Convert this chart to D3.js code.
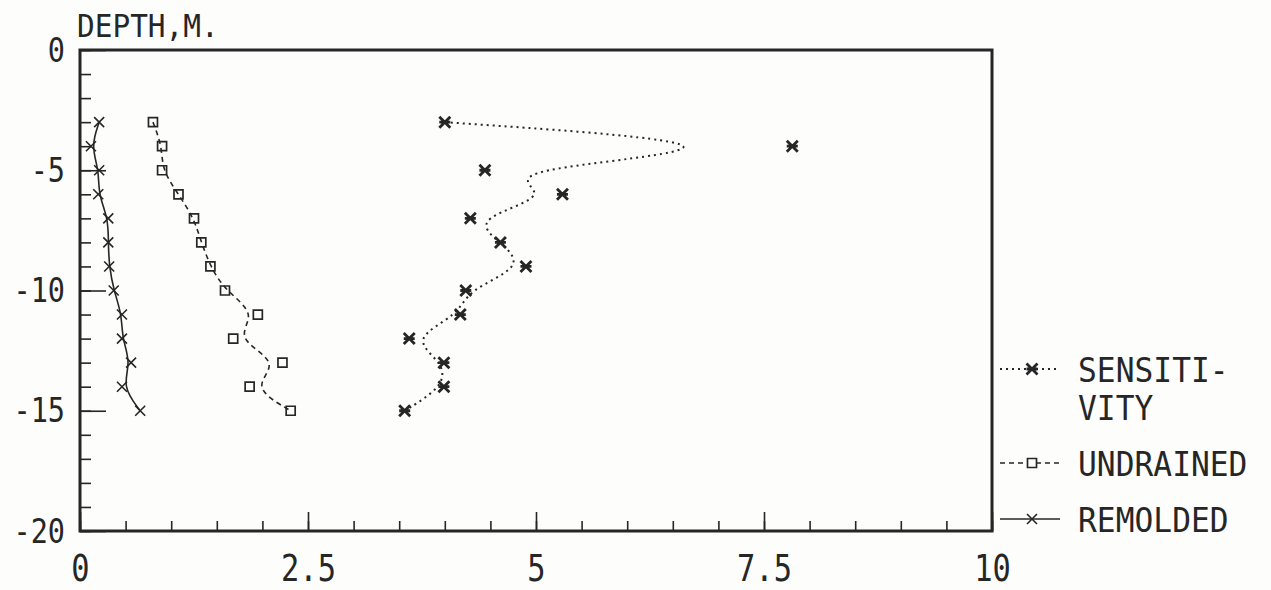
<!DOCTYPE html>
<html>
<head>
<meta charset="utf-8">
<script src="https://cdn.jsdelivr.net/npm/d3@7"></script>
<style>
  body { margin: 0; background: #fdfdfc; }
  svg { display: block; }
  text { font-family: "DejaVu Sans Mono", monospace; fill: #262626; }
</style>
</head>
<body>
<svg width="1271" height="590"></svg>
<script>
// values, depth in metres
const depths = [-3, -4, -5, -6, -7, -8, -9, -10, -11, -12, -13, -14, -15];
const remolded = [0.21, 0.12, 0.21, 0.20, 0.31, 0.31, 0.32, 0.37, 0.46, 0.46, 0.56, 0.46, 0.66];
const undrained = [0.80, 0.90, 0.90, 1.08, 1.25, 1.33, 1.43, 1.59, 1.95, 1.68, 2.22, 1.86, 2.31];
const sensitivity = [4.00, 7.81, 4.44, 5.29, 4.28, 4.61, 4.89, 4.23, 4.17, 3.61, 3.99, 3.99, 3.56];

const xTicks = [0, 2.5, 5, 7.5, 10];
const yTicks = [0, -5, -10, -15, -20];
const seriesNames = ['SENSITI-|VITY', 'UNDRAINED', 'REMOLDED'];

const ink = '#262626';
const svg = d3.select('svg');

const margin = { top: 50, left: 80, right: 279, bottom: 59 };
const width = +svg.attr('width');
const height = +svg.attr('height');
const innerWidth = width - margin.left - margin.right;
const innerHeight = height - margin.top - margin.bottom;

const xScale = d3.scaleLinear().domain([0, 10]).range([0, innerWidth]);
const yScale = d3.scaleLinear().domain([0, -20]).range([0, innerHeight]);

const g = svg.append('g')
  .attr('transform', `translate(${margin.left},${margin.top})`);

// minor ticks
g.append('g')
  .call(d3.axisRight(yScale).tickValues(d3.range(0, -21, -1)).tickSize(11).tickFormat(''))
  .call(a => a.select('.domain').remove());
g.append('g')
  .attr('transform', `translate(0,${innerHeight})`)
  .call(d3.axisTop(xScale).tickValues(d3.range(0, 10.01, 0.5)).tickSize(10).tickFormat(''))
  .call(a => a.select('.domain').remove());

// major ticks with labels (plotter lettering is narrow, so squeeze it)
const ySqueeze = 0.84;
const yAxisG = g.append('g')
  .call(d3.axisLeft(yScale).tickValues(yTicks).tickSizeInner(-26).tickSizeOuter(0)
    .tickPadding(15).tickFormat(d => String(d)));
yAxisG.select('.domain').remove();
yAxisG.selectAll('text')
  .attr('font-size', 34)
  .attr('dy', '0.33em')
  .attr('x', -15 / ySqueeze)
  .attr('transform', `scale(${ySqueeze},1)`);

const xSqueeze = 0.8;
const xAxisG = g.append('g')
  .attr('transform', `translate(0,${innerHeight})`)
  .call(d3.axisBottom(xScale).tickValues(xTicks).tickSizeInner(-19).tickSizeOuter(0)
    .tickPadding(23).tickFormat(d => String(d)));
xAxisG.select('.domain').remove();
xAxisG.selectAll('text')
  .attr('font-size', 38)
  .attr('transform', `scale(${xSqueeze},1)`);

g.selectAll('.tick line').attr('stroke', ink).attr('stroke-width', 1.6);

// frame
g.append('rect')
  .attr('width', innerWidth)
  .attr('height', innerHeight)
  .attr('fill', 'none')
  .attr('stroke', ink)
  .attr('stroke-width', 3);

g.append('text')
  .attr('transform', 'translate(-3,-13) scale(0.92,1)')
  .attr('font-size', 32)
  .text('DEPTH,M.');

// marker shapes
const crossBar = s => `M${-s},${-s}L${s},${s}M${-s},${s}L${s},${-s}M${-s},0L${s},0`;
const cross = s => `M${-s},${-s}L${s},${s}M${-s},${s}L${s},${-s}`;
const square = s => `M${-s},${-s}H${s}V${s}H${-s}Z`;

const series = [
  { values: sensitivity, dash: '2,4', width: 2, marker: crossBar(5.5), mWidth: 2.8 },
  { values: undrained, dash: '5,4', width: 1.6, marker: square(4.5), mWidth: 1.7 },
  { values: remolded, dash: null, width: 1.6, marker: cross(5), mWidth: 1.6 }
];

const line = d3.line()
  .x(d => xScale(d[0]))
  .y(d => yScale(d[1]))
  .curve(d3.curveBasis);

series.forEach(s => {
  const pts = s.values.map((v, i) => [v, depths[i]]);
  g.append('path')
    .datum(pts)
    .attr('d', line)
    .attr('fill', 'none')
    .attr('stroke', ink)
    .attr('stroke-width', s.width)
    .attr('stroke-dasharray', s.dash);
  g.selectAll(null).data(pts).enter().append('path')
    .attr('transform', d => `translate(${xScale(d[0])},${yScale(d[1])})`)
    .attr('d', s.marker)
    .attr('fill', 'none')
    .attr('stroke', ink)
    .attr('stroke-width', s.mWidth);
});

// legend
const legendY = [369, 463, 519];
const legend = svg.append('g').attr('transform', 'translate(1000,0)');
series.forEach((s, i) => {
  const row = legend.append('g').attr('transform', `translate(0,${legendY[i]})`);
  row.append('line')
    .attr('x1', 0).attr('x2', 60)
    .attr('stroke', ink)
    .attr('stroke-width', s.width)
    .attr('stroke-dasharray', s.dash);
  row.append('path')
    .attr('transform', 'translate(32,0)')
    .attr('d', s.marker)
    .attr('fill', i === 2 ? 'none' : '#fdfdfc')
    .attr('stroke', ink)
    .attr('stroke-width', s.mWidth);
  const t = row.append('text')
    .attr('transform', 'translate(78,13) scale(0.92,1)')
    .attr('font-size', 34);
  seriesNames[i].split('|').forEach((part, j) => {
    t.append('tspan').attr('x', 0).attr('dy', j === 0 ? 0 : 38).text(part);
  });
});
</script>
</body>
</html>
